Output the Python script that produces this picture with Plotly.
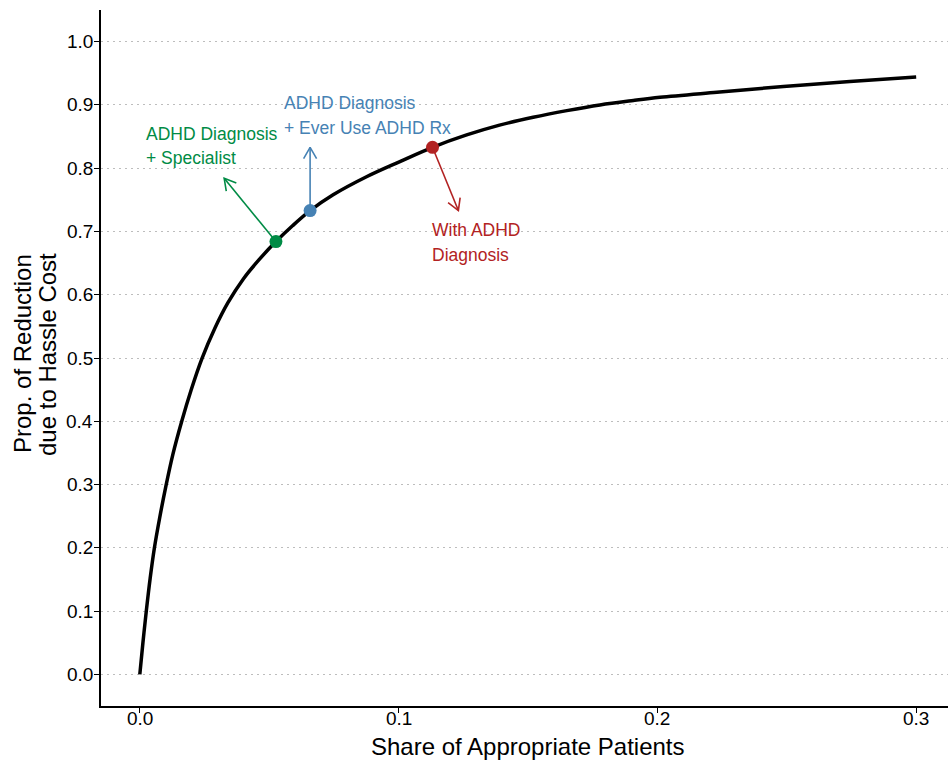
import math
import plotly.graph_objects as go

# ---- data ----
curve_x = [0, 0.0012, 0.0025, 0.0040, 0.0056, 0.0077, 0.0100, 0.0128, 0.0162, 0.0198,
           0.0240, 0.0290, 0.0340, 0.0400, 0.0460, 0.0526, 0.0590, 0.0658, 0.0747, 0.0876,
           0.1005, 0.1131, 0.1263, 0.139, 0.152, 0.165, 0.1778, 0.1907, 0.201, 0.223,
           0.2487, 0.2744, 0.3]
curve_y = [0, 0.05, 0.1, 0.152, 0.199, 0.248, 0.296, 0.348, 0.400, 0.449,
           0.499, 0.547, 0.587, 0.625, 0.655, 0.684, 0.709, 0.733, 0.758, 0.7865,
           0.8105, 0.833, 0.8525, 0.868, 0.8805, 0.891, 0.900, 0.907, 0.912, 0.920,
           0.929, 0.937, 0.944]

point_names = ["ADHD Diagnosis + Specialist", "ADHD Diagnosis + Ever Use ADHD Rx", "With ADHD Diagnosis"]
point_x = [0.0526, 0.0658, 0.1131]
point_y = [0.684, 0.733, 0.833]
point_colors = ["#008B45", "#4682B4", "#B22222"]
arrow_dx = [-0.02, 0.0, 0.01]
arrow_dy = [0.10, 0.10, -0.10]
label_lines = [["ADHD Diagnosis", "+ Specialist"],
               ["ADHD Diagnosis", "+ Ever Use ADHD Rx"],
               ["With ADHD", "Diagnosis"]]
label_x = [0.0028, 0.0563, 0.1136]
label_y = [[0.8536, 0.8165], [0.9035, 0.864], [0.7025, 0.663]]

x_ticks = [0.0, 0.1, 0.2, 0.3]
x_ticklabels = ["0.0", "0.1", "0.2", "0.3"]
y_ticks = [0.0, 0.1, 0.2, 0.3, 0.4, 0.5, 0.6, 0.7, 0.8, 0.9, 1.0]
y_ticklabels = ["0.0", "0.1", "0.2", "0.3", "0.4", "0.5", "0.6", "0.7", "0.8", "0.9", "1.0"]

x_title = "Share of Appropriate Patients"
y_title_lines = ["Prop. of Reduction", "due to Hassle Cost"]

# ---- layout constants ----
W, H = 948, 762
ML, MR, MT, MB = 101, 0, 10, 56
PW, PH = W - ML - MR, H - MT - MB
xr = [-0.015, 0.3123]
yr = [-0.05, 1.05]
sx = PW / (xr[1] - xr[0])
sy = PH / (yr[1] - yr[0])
FONT = "Liberation Sans, Arial, Helvetica, sans-serif"
TICK_SIZE = 19
TITLE_SIZE = 24
LABEL_SIZE = 17.5


def px_to_paper_x(px):
    return (px - ML) / PW


def px_to_paper_y(py):
    return (H - MB - py) / PH


fig = go.Figure()

fig.add_trace(go.Scatter(x=curve_x, y=curve_y, mode="lines",
                         line=dict(color="black", width=3.5, shape="spline", smoothing=1.0),
                         hoverinfo="skip", showlegend=False))

head_len = 13.0
head_ang = math.radians(30)
for i in range(len(point_x)):
    x0, y0 = point_x[i], point_y[i]
    x1, y1 = x0 + arrow_dx[i], y0 + arrow_dy[i]
    c = point_colors[i]
    fig.add_trace(go.Scatter(x=[x0, x1], y=[y0, y1], mode="lines",
                             line=dict(color=c, width=1.6), hoverinfo="skip", showlegend=False))
    vx = (x0 - x1) * sx
    vy = (y0 - y1) * sy
    n = math.hypot(vx, vy)
    ux, uy = vx / n, vy / n
    hx, hy = [], []
    for s in (1, -1):
        a = s * head_ang
        rx = ux * math.cos(a) - uy * math.sin(a)
        ry = ux * math.sin(a) + uy * math.cos(a)
        hx.append(x1 + rx * head_len / sx)
        hy.append(y1 + ry * head_len / sy)
    fig.add_trace(go.Scatter(x=[hx[0], x1, hx[1]], y=[hy[0], y1, hy[1]], mode="lines",
                             line=dict(color=c, width=1.6), hoverinfo="skip", showlegend=False))

fig.add_trace(go.Scatter(x=point_x, y=point_y, mode="markers", text=point_names,
                         marker=dict(color=point_colors, size=13, line=dict(width=0)),
                         hoverinfo="text", showlegend=False))

annotations = []
for i in range(len(point_x)):
    for j, line in enumerate(label_lines[i]):
        annotations.append(dict(x=label_x[i] - 2.5 / sx, y=label_y[i][j], xref="x", yref="y",
                                text=line, showarrow=False, xanchor="left", yanchor="middle",
                                borderpad=0,
                                font=dict(family=FONT, size=LABEL_SIZE, color=point_colors[i])))

# tick labels placed close to the axes, like the reference
for v, t in zip(x_ticks, x_ticklabels):
    annotations.append(dict(x=v, y=px_to_paper_y(718), xref="x", yref="paper", text=t,
                            showarrow=False, xanchor="center", yanchor="middle", borderpad=0,
                            font=dict(family=FONT, size=TICK_SIZE, color="black")))
for v, t in zip(y_ticks, y_ticklabels):
    annotations.append(dict(x=px_to_paper_x(94), y=v, xref="paper", yref="y", text=t,
                            showarrow=False, xanchor="right", yanchor="middle", borderpad=0,
                            font=dict(family=FONT, size=TICK_SIZE, color="black")))

annotations.append(dict(x=px_to_paper_x(528), y=px_to_paper_y(746),
                        xref="paper", yref="paper", text=x_title, showarrow=False,
                        xanchor="center", yanchor="middle",
                        font=dict(family=FONT, size=TITLE_SIZE, color="black")))
for px, line in zip([23, 48], y_title_lines):
    annotations.append(dict(x=px_to_paper_x(px), y=px_to_paper_y(354),
                            xref="paper", yref="paper", text=line, showarrow=False,
                            textangle=-90, xanchor="center", yanchor="middle",
                            font=dict(family=FONT, size=TITLE_SIZE, color="black")))

fig.update_layout(
    width=W, height=H,
    margin=dict(l=ML, r=MR, t=MT, b=MB, pad=0),
    paper_bgcolor="white", plot_bgcolor="white",
    font=dict(family=FONT, size=18, color="black"),
    annotations=annotations,
    xaxis=dict(range=xr, tickvals=x_ticks, showticklabels=False, showgrid=False,
               zeroline=False, showline=True, linecolor="black", linewidth=1.5,
               ticks="outside", ticklen=5, tickwidth=1.2, tickcolor="black"),
    yaxis=dict(range=yr, tickvals=y_ticks, showticklabels=False, showgrid=True,
               gridcolor="#BDBDBD", gridwidth=1.2, griddash="2px,4px",
               zeroline=False, showline=True, linecolor="black", linewidth=1.5,
               ticks="outside", ticklen=5, tickwidth=1.2, tickcolor="black"),
)

fig.write_html("out.html")
